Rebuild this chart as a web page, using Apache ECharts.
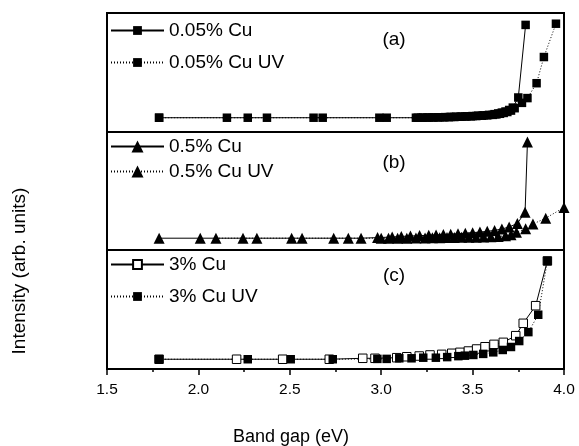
<!DOCTYPE html>
<html>
<head>
<meta charset="utf-8">
<script src="https://cdn.jsdelivr.net/npm/echarts@6/dist/echarts.min.js"></script>
<style>
html, body { margin: 0; padding: 0; background: #fff; }
#chart { width: 579px; height: 446px; }
</style>
</head>
<body>
<div id="chart"></div>
<script>
// x axis ticks
var xTicks = [1.5, 2.0, 2.5, 3.0, 3.5, 4.0];

// panel (a)
var cuA_x = [1.785, 2.27, 2.63, 3.03, 3.20, 3.23, 3.26, 3.29, 3.32, 3.35, 3.38, 3.41, 3.44, 3.47, 3.50, 3.53, 3.56, 3.59, 3.62, 3.64, 3.66, 3.68, 3.70, 3.72, 3.75, 3.79];
var cuA_y = [0.12, 0.12, 0.12, 0.12, 0.12, 0.121, 0.122, 0.123, 0.124, 0.125, 0.127, 0.128, 0.130, 0.132, 0.134, 0.137, 0.140, 0.144, 0.150, 0.156, 0.163, 0.172, 0.185, 0.205, 0.29, 0.90];
var uvA_x = [1.785, 2.156, 2.375, 2.68, 2.99, 3.19, 3.22, 3.25, 3.28, 3.31, 3.34, 3.37, 3.40, 3.43, 3.46, 3.49, 3.52, 3.55, 3.58, 3.61, 3.63, 3.65, 3.67, 3.69, 3.71, 3.73, 3.77, 3.80, 3.85, 3.89, 3.956];
var uvA_y = [0.12, 0.12, 0.12, 0.12, 0.12, 0.12, 0.12, 0.121, 0.122, 0.123, 0.124, 0.125, 0.126, 0.128, 0.13, 0.132, 0.134, 0.137, 0.14, 0.144, 0.148, 0.153, 0.16, 0.168, 0.18, 0.20, 0.245, 0.285, 0.41, 0.63, 0.91];

// panel (b)
var cuB_x = [1.785, 2.01, 2.244, 2.51, 2.74, 2.89, 2.98, 3.06, 3.11, 3.16, 3.21, 3.26, 3.30, 3.34, 3.38, 3.42, 3.46, 3.50, 3.54, 3.58, 3.62, 3.66, 3.70, 3.745, 3.787, 3.80];
var cuB_y = [0.10, 0.10, 0.10, 0.10, 0.10, 0.10, 0.105, 0.11, 0.115, 0.118, 0.122, 0.125, 0.128, 0.131, 0.134, 0.138, 0.142, 0.147, 0.152, 0.158, 0.166, 0.178, 0.195, 0.225, 0.32, 0.915];
var uvB_x = [2.096, 2.32, 2.567, 2.82, 3.00, 3.04, 3.09, 3.14, 3.19, 3.24, 3.28, 3.32, 3.36, 3.40, 3.44, 3.48, 3.52, 3.56, 3.60, 3.64, 3.68, 3.71, 3.74, 3.79, 3.83, 3.90, 4.0];
var uvB_y = [0.10, 0.10, 0.10, 0.10, 0.10, 0.10, 0.10, 0.10, 0.101, 0.102, 0.103, 0.104, 0.105, 0.106, 0.107, 0.108, 0.109, 0.11, 0.112, 0.115, 0.12, 0.13, 0.15, 0.18, 0.22, 0.27, 0.36];

// panel (c)
var cuC_x = [1.785, 2.209, 2.461, 2.716, 2.899, 2.966, 3.085, 3.140, 3.208, 3.267, 3.331, 3.386, 3.431, 3.477, 3.522, 3.568, 3.617, 3.668, 3.736, 3.777, 3.845, 3.909];
var cuC_y = [0.082, 0.082, 0.082, 0.082, 0.09, 0.09, 0.095, 0.103, 0.109, 0.118, 0.123, 0.132, 0.14, 0.151, 0.168, 0.187, 0.207, 0.224, 0.28, 0.384, 0.532, 0.908];
var uvC_x = [1.784, 2.270, 2.505, 2.735, 2.979, 3.030, 3.099, 3.166, 3.230, 3.299, 3.361, 3.422, 3.458, 3.504, 3.558, 3.613, 3.665, 3.710, 3.755, 3.805, 3.859, 3.909];
var uvC_y = [0.082, 0.082, 0.082, 0.082, 0.085, 0.085, 0.09, 0.09, 0.095, 0.095, 0.10, 0.108, 0.112, 0.118, 0.127, 0.14, 0.16, 0.185, 0.235, 0.31, 0.456, 0.908];

var names = ['0.05% Cu', '0.05% Cu UV', '0.5% Cu', '0.5% Cu UV', '3% Cu', '3% Cu UV'];
var panelLabels = ['(a)', '(b)', '(c)'];

function pairs(xs, ys) {
    return xs.map(function (x, i) { return [x, ys[i]]; });
}

var font = 'Liberation Sans, Arial, sans-serif';
var tops = [13, 132, 250];
var heights = [119, 118, 119];

var grids = [], xAxes = [], yAxes = [];
for (var g = 0; g < 3; g++) {
    grids.push({ left: 107, width: 457, top: tops[g], height: heights[g], show: true, borderColor: '#000', borderWidth: 2, backgroundColor: 'transparent' });
    var last = g === 2;
    xAxes.push({
        type: 'value', gridIndex: g, min: 1.5, max: 4.0, interval: 0.5,
        axisLine: { show: last, onZero: false, lineStyle: { color: '#000', width: 2 } },
        axisTick: { show: last, length: 6, lineStyle: { color: '#000', width: 1.5 } },
        minorTick: { show: last, splitNumber: 2, length: 3, lineStyle: { color: '#000', width: 1.5 } },
        axisLabel: { show: last, color: '#000', fontSize: 15.5, fontFamily: font, margin: 13,
            formatter: function (v) { return v.toFixed(1); } },
        splitLine: { show: false }
    });
    yAxes.push({ type: 'value', gridIndex: g, min: 0, max: 1, show: false, splitLine: { show: false } });
}

var solid = { color: '#000', width: 1, type: 'solid' };
var dotted = { color: '#000', width: 1, type: [1, 2] };

function mk(name, g, data, sym, size, line, open) {
    return {
        name: name, type: 'line', xAxisIndex: g, yAxisIndex: g, data: data,
        symbol: sym, symbolSize: size, showSymbol: true, animation: false,
        lineStyle: line,
        itemStyle: open ? { color: '#fff', borderColor: '#000', borderWidth: 1 } : { color: '#000', borderColor: '#000', borderWidth: 0 },
        emphasis: { disabled: true }
    };
}

var series = [
    mk(names[0], 0, pairs(cuA_x, cuA_y), 'rect', 8.5, solid, false),
    mk(names[1], 0, pairs(uvA_x, uvA_y), 'rect', 8.5, dotted, false),
    mk(names[2], 1, pairs(cuB_x, cuB_y), 'triangle', 11, solid, false),
    mk(names[3], 1, pairs(uvB_x, uvB_y), 'triangle', 11, dotted, false),
    mk(names[4], 2, pairs(cuC_x, cuC_y), 'rect', 8.5, solid, true),
    mk(names[5], 2, pairs(uvC_x, uvC_y), 'rect', 8.5, dotted, false)
];

var legendTops = [31, 63, 147, 172, 265, 297];
var legendIcon = [11, 11, 15, 15, 11, 11];
var legends = names.map(function (n, i) {
    return {
        data: [n], left: 110, top: legendTops[i] - 10, itemWidth: 53, itemHeight: legendIcon[i], itemGap: 0,
        selectedMode: false, padding: 0,
        textStyle: { color: '#000', fontSize: 19, fontFamily: font }
    };
});

var labelY = [40, 163, 276];
var graphics = panelLabels.map(function (t, i) {
    return { type: 'text', x: 394, y: labelY[i], style: { text: t, fill: '#000', font: '19px ' + font, textAlign: 'center', textVerticalAlign: 'middle' } };
});
graphics.push({ type: 'text', x: 291, y: 437, style: { text: 'Band gap (eV)', fill: '#000', font: '18px ' + font, textAlign: 'center', textVerticalAlign: 'middle' } });
graphics.push({ type: 'text', x: 20, y: 271, rotation: Math.PI / 2, style: { text: 'Intensity (arb. units)', fill: '#000', font: '19px ' + font, textAlign: 'center', textVerticalAlign: 'middle' } });

var myChart = echarts.init(document.getElementById('chart'));
myChart.setOption({
    animation: false,
    grid: grids,
    xAxis: xAxes,
    yAxis: yAxes,
    legend: legends,
    graphic: graphics,
    series: series
});
</script>
</body>
</html>
